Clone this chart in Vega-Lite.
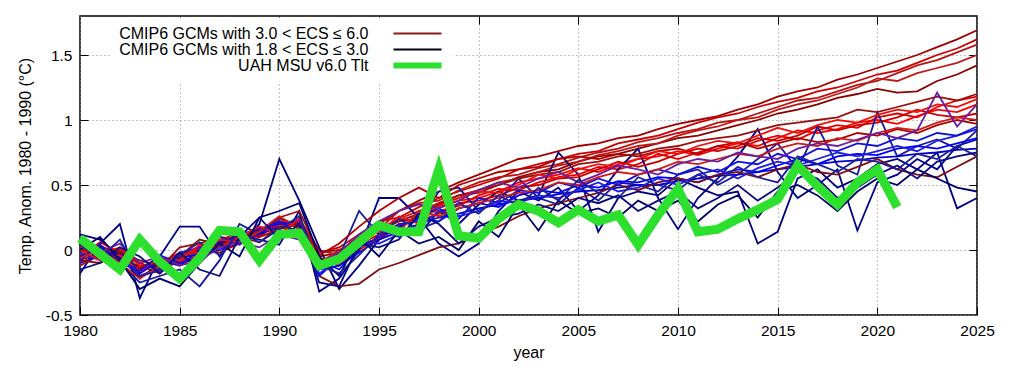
{
"$schema":"https://vega.github.io/schema/vega-lite/v6.json",
"width":897,"height":299,
"autosize":{"type":"none"},
"padding":{"left":80,"top":16,"right":33,"bottom":53},
"config":{"font":"Liberation Sans","view":{"stroke":"black","strokeWidth":1.5},"axis":{"labelColor":"black","titleColor":"black","titleFontWeight":"normal","tickColor":"black","labelFontSize":15.5,"titleFontSize":16}},
"datasets":{
"lg":[{"g":"CMIP6 GCMs with 3.0 < ECS ≤ 6.0"},{"g":"CMIP6 GCMs with 1.8 < ECS ≤ 3.0"},{"g":"UAH MSU v6.0 Tlt"}],
"u":[
{"x":1980,"y":0.09},{"x":1981,"y":-0.03},{"x":1982,"y":-0.15},{"x":1983,"y":0.08},{"x":1984,"y":-0.09},{"x":1985,"y":-0.22},{"x":1986,"y":-0.06},{"x":1987,"y":0.15},{"x":1988,"y":0.14},{"x":1989,"y":-0.08},
{"x":1990,"y":0.12},{"x":1991,"y":0.13},{"x":1992,"y":-0.12},{"x":1993,"y":-0.07},{"x":1994,"y":0.06},{"x":1995,"y":0.19},{"x":1996,"y":0.14},{"x":1997,"y":0.14},{"x":1998,"y":0.62},{"x":1999,"y":0.11},
{"x":2000,"y":0.09},{"x":2001,"y":0.24},{"x":2002,"y":0.35},{"x":2003,"y":0.30},{"x":2004,"y":0.21},{"x":2005,"y":0.31},{"x":2006,"y":0.22},{"x":2007,"y":0.27},{"x":2008,"y":0.04},{"x":2009,"y":0.27},
{"x":2010,"y":0.47},{"x":2011,"y":0.14},{"x":2012,"y":0.16},{"x":2013,"y":0.24},{"x":2014,"y":0.31},{"x":2015,"y":0.39},{"x":2016,"y":0.65},{"x":2017,"y":0.49},{"x":2018,"y":0.35},{"x":2019,"y":0.52},
{"x":2020,"y":0.62},{"x":2021,"y":0.33}],
"d":[
{"m":"H1","x":1980,"y":-0.08},{"m":"H1","x":1981,"y":-0.02},{"m":"H1","x":1982,"y":-0.06},{"m":"H1","x":1983,"y":-0.16},{"m":"H1","x":1984,"y":-0.10},{"m":"H1","x":1985,"y":-0.05},{"m":"H1","x":1986,"y":0.00},{"m":"H1","x":1987,"y":0.06},{"m":"H1","x":1988,"y":0.10},{"m":"H1","x":1989,"y":0.15},
{"m":"H1","x":1990,"y":0.22},{"m":"H1","x":1991,"y":0.20},{"m":"H1","x":1992,"y":-0.05},{"m":"H1","x":1993,"y":-0.02},{"m":"H1","x":1994,"y":0.10},{"m":"H1","x":1995,"y":0.20},{"m":"H1","x":1996,"y":0.30},{"m":"H1","x":1997,"y":0.38},{"m":"H1","x":1998,"y":0.45},{"m":"H1","x":1999,"y":0.52},
{"m":"H1","x":2000,"y":0.58},{"m":"H1","x":2001,"y":0.64},{"m":"H1","x":2002,"y":0.70},{"m":"H1","x":2003,"y":0.72},{"m":"H1","x":2004,"y":0.76},{"m":"H1","x":2005,"y":0.80},{"m":"H1","x":2006,"y":0.82},{"m":"H1","x":2007,"y":0.86},{"m":"H1","x":2008,"y":0.88},{"m":"H1","x":2009,"y":0.93},
{"m":"H1","x":2010,"y":0.97},{"m":"H1","x":2011,"y":1.00},{"m":"H1","x":2012,"y":1.03},{"m":"H1","x":2013,"y":1.08},{"m":"H1","x":2014,"y":1.12},{"m":"H1","x":2015,"y":1.18},{"m":"H1","x":2016,"y":1.22},{"m":"H1","x":2017,"y":1.25},{"m":"H1","x":2018,"y":1.31},{"m":"H1","x":2019,"y":1.35},
{"m":"H1","x":2020,"y":1.40},{"m":"H1","x":2021,"y":1.45},{"m":"H1","x":2022,"y":1.50},{"m":"H1","x":2023,"y":1.56},{"m":"H1","x":2024,"y":1.62},{"m":"H1","x":2025,"y":1.69},
{"m":"H2","x":1980,"y":-0.04},{"m":"H2","x":1981,"y":0.02},{"m":"H2","x":1982,"y":-0.02},{"m":"H2","x":1983,"y":-0.20},{"m":"H2","x":1984,"y":-0.14},{"m":"H2","x":1985,"y":-0.08},{"m":"H2","x":1986,"y":0.02},{"m":"H2","x":1987,"y":0.04},{"m":"H2","x":1988,"y":0.12},{"m":"H2","x":1989,"y":0.13},
{"m":"H2","x":1990,"y":0.18},{"m":"H2","x":1991,"y":0.22},{"m":"H2","x":1992,"y":-0.02},{"m":"H2","x":1993,"y":0.02},{"m":"H2","x":1994,"y":0.12},{"m":"H2","x":1995,"y":0.22},{"m":"H2","x":1996,"y":0.25},{"m":"H2","x":1997,"y":0.33},{"m":"H2","x":1998,"y":0.40},{"m":"H2","x":1999,"y":0.45},
{"m":"H2","x":2000,"y":0.50},{"m":"H2","x":2001,"y":0.55},{"m":"H2","x":2002,"y":0.62},{"m":"H2","x":2003,"y":0.66},{"m":"H2","x":2004,"y":0.70},{"m":"H2","x":2005,"y":0.74},{"m":"H2","x":2006,"y":0.76},{"m":"H2","x":2007,"y":0.82},{"m":"H2","x":2008,"y":0.85},{"m":"H2","x":2009,"y":0.88},
{"m":"H2","x":2010,"y":0.93},{"m":"H2","x":2011,"y":0.98},{"m":"H2","x":2012,"y":1.02},{"m":"H2","x":2013,"y":1.05},{"m":"H2","x":2014,"y":1.10},{"m":"H2","x":2015,"y":1.14},{"m":"H2","x":2016,"y":1.17},{"m":"H2","x":2017,"y":1.22},{"m":"H2","x":2018,"y":1.25},{"m":"H2","x":2019,"y":1.30},
{"m":"H2","x":2020,"y":1.35},{"m":"H2","x":2021,"y":1.38},{"m":"H2","x":2022,"y":1.44},{"m":"H2","x":2023,"y":1.50},{"m":"H2","x":2024,"y":1.55},{"m":"H2","x":2025,"y":1.62},
{"m":"H3","x":1980,"y":0.02},{"m":"H3","x":1981,"y":-0.05},{"m":"H3","x":1982,"y":-0.08},{"m":"H3","x":1983,"y":-0.12},{"m":"H3","x":1984,"y":-0.18},{"m":"H3","x":1985,"y":-0.06},{"m":"H3","x":1986,"y":-0.01},{"m":"H3","x":1987,"y":0.05},{"m":"H3","x":1988,"y":0.08},{"m":"H3","x":1989,"y":0.17},
{"m":"H3","x":1990,"y":0.16},{"m":"H3","x":1991,"y":0.24},{"m":"H3","x":1992,"y":0.00},{"m":"H3","x":1993,"y":-0.04},{"m":"H3","x":1994,"y":0.06},{"m":"H3","x":1995,"y":0.16},{"m":"H3","x":1996,"y":0.30},{"m":"H3","x":1997,"y":0.36},{"m":"H3","x":1998,"y":0.38},{"m":"H3","x":1999,"y":0.46},
{"m":"H3","x":2000,"y":0.52},{"m":"H3","x":2001,"y":0.56},{"m":"H3","x":2002,"y":0.58},{"m":"H3","x":2003,"y":0.63},{"m":"H3","x":2004,"y":0.66},{"m":"H3","x":2005,"y":0.71},{"m":"H3","x":2006,"y":0.75},{"m":"H3","x":2007,"y":0.78},{"m":"H3","x":2008,"y":0.83},{"m":"H3","x":2009,"y":0.86},
{"m":"H3","x":2010,"y":0.90},{"m":"H3","x":2011,"y":0.93},{"m":"H3","x":2012,"y":0.98},{"m":"H3","x":2013,"y":1.00},{"m":"H3","x":2014,"y":1.05},{"m":"H3","x":2015,"y":1.10},{"m":"H3","x":2016,"y":1.15},{"m":"H3","x":2017,"y":1.17},{"m":"H3","x":2018,"y":1.22},{"m":"H3","x":2019,"y":1.27},
{"m":"H3","x":2020,"y":1.30},{"m":"H3","x":2021,"y":1.36},{"m":"H3","x":2022,"y":1.42},{"m":"H3","x":2023,"y":1.46},{"m":"H3","x":2024,"y":1.52},{"m":"H3","x":2025,"y":1.58},
{"m":"H4","x":1980,"y":-0.06},{"m":"H4","x":1981,"y":0.03},{"m":"H4","x":1982,"y":-0.03},{"m":"H4","x":1983,"y":-0.14},{"m":"H4","x":1984,"y":-0.12},{"m":"H4","x":1985,"y":-0.10},{"m":"H4","x":1986,"y":0.03},{"m":"H4","x":1987,"y":0.08},{"m":"H4","x":1988,"y":0.06},{"m":"H4","x":1989,"y":0.12},
{"m":"H4","x":1990,"y":0.20},{"m":"H4","x":1991,"y":0.18},{"m":"H4","x":1992,"y":-0.08},{"m":"H4","x":1993,"y":-0.05},{"m":"H4","x":1994,"y":0.05},{"m":"H4","x":1995,"y":0.15},{"m":"H4","x":1996,"y":0.22},{"m":"H4","x":1997,"y":0.28},{"m":"H4","x":1998,"y":0.35},{"m":"H4","x":1999,"y":0.40},
{"m":"H4","x":2000,"y":0.46},{"m":"H4","x":2001,"y":0.50},{"m":"H4","x":2002,"y":0.56},{"m":"H4","x":2003,"y":0.60},{"m":"H4","x":2004,"y":0.62},{"m":"H4","x":2005,"y":0.68},{"m":"H4","x":2006,"y":0.72},{"m":"H4","x":2007,"y":0.74},{"m":"H4","x":2008,"y":0.78},{"m":"H4","x":2009,"y":0.82},
{"m":"H4","x":2010,"y":0.86},{"m":"H4","x":2011,"y":0.88},{"m":"H4","x":2012,"y":0.92},{"m":"H4","x":2013,"y":0.96},{"m":"H4","x":2014,"y":1.00},{"m":"H4","x":2015,"y":1.05},{"m":"H4","x":2016,"y":1.08},{"m":"H4","x":2017,"y":1.12},{"m":"H4","x":2018,"y":1.17},{"m":"H4","x":2019,"y":1.20},
{"m":"H4","x":2020,"y":1.24},{"m":"H4","x":2021,"y":1.21},{"m":"H4","x":2022,"y":1.22},{"m":"H4","x":2023,"y":1.30},{"m":"H4","x":2024,"y":1.35},{"m":"H4","x":2025,"y":1.42},
{"m":"H5","x":1980,"y":-0.03},{"m":"H5","x":1981,"y":-0.06},{"m":"H5","x":1982,"y":0.00},{"m":"H5","x":1983,"y":-0.10},{"m":"H5","x":1984,"y":-0.15},{"m":"H5","x":1985,"y":-0.09},{"m":"H5","x":1986,"y":-0.04},{"m":"H5","x":1987,"y":0.07},{"m":"H5","x":1988,"y":0.14},{"m":"H5","x":1989,"y":0.10},
{"m":"H5","x":1990,"y":0.24},{"m":"H5","x":1991,"y":0.16},{"m":"H5","x":1992,"y":-0.10},{"m":"H5","x":1993,"y":0.00},{"m":"H5","x":1994,"y":0.08},{"m":"H5","x":1995,"y":0.14},{"m":"H5","x":1996,"y":0.24},{"m":"H5","x":1997,"y":0.30},{"m":"H5","x":1998,"y":0.36},{"m":"H5","x":1999,"y":0.42},
{"m":"H5","x":2000,"y":0.46},{"m":"H5","x":2001,"y":0.52},{"m":"H5","x":2002,"y":0.55},{"m":"H5","x":2003,"y":0.60},{"m":"H5","x":2004,"y":0.65},{"m":"H5","x":2005,"y":0.68},{"m":"H5","x":2006,"y":0.73},{"m":"H5","x":2007,"y":0.76},{"m":"H5","x":2008,"y":0.80},{"m":"H5","x":2009,"y":0.82},
{"m":"H5","x":2010,"y":0.88},{"m":"H5","x":2011,"y":0.92},{"m":"H5","x":2012,"y":0.95},{"m":"H5","x":2013,"y":1.00},{"m":"H5","x":2014,"y":1.02},{"m":"H5","x":2015,"y":1.08},{"m":"H5","x":2016,"y":1.12},{"m":"H5","x":2017,"y":1.15},{"m":"H5","x":2018,"y":1.20},{"m":"H5","x":2019,"y":1.25},
{"m":"H5","x":2020,"y":1.32},{"m":"H5","x":2021,"y":1.30},{"m":"H5","x":2022,"y":1.36},{"m":"H5","x":2023,"y":1.40},{"m":"H5","x":2024,"y":1.44},{"m":"H5","x":2025,"y":1.50},
{"m":"M1","x":1980,"y":-0.10},{"m":"M1","x":1981,"y":-0.03},{"m":"M1","x":1982,"y":0.02},{"m":"M1","x":1983,"y":-0.12},{"m":"M1","x":1984,"y":-0.10},{"m":"M1","x":1985,"y":-0.02},{"m":"M1","x":1986,"y":0.00},{"m":"M1","x":1987,"y":0.03},{"m":"M1","x":1988,"y":0.08},{"m":"M1","x":1989,"y":0.12},
{"m":"M1","x":1990,"y":0.20},{"m":"M1","x":1991,"y":0.14},{"m":"M1","x":1992,"y":-0.12},{"m":"M1","x":1993,"y":-0.10},{"m":"M1","x":1994,"y":0.00},{"m":"M1","x":1995,"y":0.10},{"m":"M1","x":1996,"y":0.18},{"m":"M1","x":1997,"y":0.25},{"m":"M1","x":1998,"y":0.33},{"m":"M1","x":1999,"y":0.38},
{"m":"M1","x":2000,"y":0.40},{"m":"M1","x":2001,"y":0.45},{"m":"M1","x":2002,"y":0.52},{"m":"M1","x":2003,"y":0.55},{"m":"M1","x":2004,"y":0.58},{"m":"M1","x":2005,"y":0.63},{"m":"M1","x":2006,"y":0.60},{"m":"M1","x":2007,"y":0.66},{"m":"M1","x":2008,"y":0.70},{"m":"M1","x":2009,"y":0.72},
{"m":"M1","x":2010,"y":0.76},{"m":"M1","x":2011,"y":0.73},{"m":"M1","x":2012,"y":0.78},{"m":"M1","x":2013,"y":0.82},{"m":"M1","x":2014,"y":0.80},{"m":"M1","x":2015,"y":0.86},{"m":"M1","x":2016,"y":0.92},{"m":"M1","x":2017,"y":0.90},{"m":"M1","x":2018,"y":0.93},{"m":"M1","x":2019,"y":0.98},
{"m":"M1","x":2020,"y":1.00},{"m":"M1","x":2021,"y":0.97},{"m":"M1","x":2022,"y":1.03},{"m":"M1","x":2023,"y":1.08},{"m":"M1","x":2024,"y":1.06},{"m":"M1","x":2025,"y":1.12},
{"m":"B1","x":1980,"y":0.12},{"m":"B1","x":1981,"y":0.08},{"m":"B1","x":1982,"y":-0.05},{"m":"B1","x":1983,"y":-0.22},{"m":"B1","x":1984,"y":-0.10},{"m":"B1","x":1985,"y":-0.20},{"m":"B1","x":1986,"y":-0.05},{"m":"B1","x":1987,"y":0.00},{"m":"B1","x":1988,"y":0.05},{"m":"B1","x":1989,"y":0.20},
{"m":"B1","x":1990,"y":0.70},{"m":"B1","x":1991,"y":0.38},{"m":"B1","x":1992,"y":0.02},{"m":"B1","x":1993,"y":-0.30},{"m":"B1","x":1994,"y":-0.12},{"m":"B1","x":1995,"y":0.08},{"m":"B1","x":1996,"y":0.18},{"m":"B1","x":1997,"y":0.12},{"m":"B1","x":1998,"y":0.30},{"m":"B1","x":1999,"y":0.20},
{"m":"B1","x":2000,"y":0.35},{"m":"B1","x":2001,"y":0.45},{"m":"B1","x":2002,"y":0.38},{"m":"B1","x":2003,"y":0.42},{"m":"B1","x":2004,"y":0.75},{"m":"B1","x":2005,"y":0.58},{"m":"B1","x":2006,"y":0.14},{"m":"B1","x":2007,"y":0.40},{"m":"B1","x":2008,"y":0.45},{"m":"B1","x":2009,"y":0.42},
{"m":"B1","x":2010,"y":0.55},{"m":"B1","x":2011,"y":0.48},{"m":"B1","x":2012,"y":0.42},{"m":"B1","x":2013,"y":0.45},{"m":"B1","x":2014,"y":0.05},{"m":"B1","x":2015,"y":0.14},{"m":"B1","x":2016,"y":0.55},{"m":"B1","x":2017,"y":0.62},{"m":"B1","x":2018,"y":0.48},{"m":"B1","x":2019,"y":0.55},
{"m":"B1","x":2020,"y":0.66},{"m":"B1","x":2021,"y":0.70},{"m":"B1","x":2022,"y":0.62},{"m":"B1","x":2023,"y":0.75},{"m":"B1","x":2024,"y":0.32},{"m":"B1","x":2025,"y":0.40},
{"m":"M2","x":1980,"y":-0.05},{"m":"M2","x":1981,"y":0.06},{"m":"M2","x":1982,"y":-0.02},{"m":"M2","x":1983,"y":-0.18},{"m":"M2","x":1984,"y":-0.08},{"m":"M2","x":1985,"y":-0.12},{"m":"M2","x":1986,"y":-0.04},{"m":"M2","x":1987,"y":0.06},{"m":"M2","x":1988,"y":0.12},{"m":"M2","x":1989,"y":0.10},
{"m":"M2","x":1990,"y":0.22},{"m":"M2","x":1991,"y":0.18},{"m":"M2","x":1992,"y":-0.06},{"m":"M2","x":1993,"y":-0.12},{"m":"M2","x":1994,"y":0.04},{"m":"M2","x":1995,"y":0.12},{"m":"M2","x":1996,"y":0.16},{"m":"M2","x":1997,"y":0.28},{"m":"M2","x":1998,"y":0.30},{"m":"M2","x":1999,"y":0.34},
{"m":"M2","x":2000,"y":0.42},{"m":"M2","x":2001,"y":0.47},{"m":"M2","x":2002,"y":0.46},{"m":"M2","x":2003,"y":0.52},{"m":"M2","x":2004,"y":0.56},{"m":"M2","x":2005,"y":0.58},{"m":"M2","x":2006,"y":0.64},{"m":"M2","x":2007,"y":0.62},{"m":"M2","x":2008,"y":0.66},{"m":"M2","x":2009,"y":0.74},
{"m":"M2","x":2010,"y":0.70},{"m":"M2","x":2011,"y":0.75},{"m":"M2","x":2012,"y":0.80},{"m":"M2","x":2013,"y":0.78},{"m":"M2","x":2014,"y":0.84},{"m":"M2","x":2015,"y":0.88},{"m":"M2","x":2016,"y":0.85},{"m":"M2","x":2017,"y":0.92},{"m":"M2","x":2018,"y":0.96},{"m":"M2","x":2019,"y":0.94},
{"m":"M2","x":2020,"y":1.02},{"m":"M2","x":2021,"y":1.05},{"m":"M2","x":2022,"y":1.02},{"m":"M2","x":2023,"y":1.10},{"m":"M2","x":2024,"y":1.15},{"m":"M2","x":2025,"y":1.18},
{"m":"B2","x":1980,"y":-0.18},{"m":"B2","x":1981,"y":0.05},{"m":"B2","x":1982,"y":0.20},{"m":"B2","x":1983,"y":-0.37},{"m":"B2","x":1984,"y":-0.05},{"m":"B2","x":1985,"y":0.18},{"m":"B2","x":1986,"y":0.18},{"m":"B2","x":1987,"y":-0.05},{"m":"B2","x":1988,"y":0.12},{"m":"B2","x":1989,"y":0.08},
{"m":"B2","x":1990,"y":0.04},{"m":"B2","x":1991,"y":0.30},{"m":"B2","x":1992,"y":-0.32},{"m":"B2","x":1993,"y":-0.22},{"m":"B2","x":1994,"y":0.00},{"m":"B2","x":1995,"y":0.40},{"m":"B2","x":1996,"y":0.40},{"m":"B2","x":1997,"y":0.25},{"m":"B2","x":1998,"y":0.05},{"m":"B2","x":1999,"y":-0.05},
{"m":"B2","x":2000,"y":0.05},{"m":"B2","x":2001,"y":0.30},{"m":"B2","x":2002,"y":0.45},{"m":"B2","x":2003,"y":0.38},{"m":"B2","x":2004,"y":0.48},{"m":"B2","x":2005,"y":0.30},{"m":"B2","x":2006,"y":0.42},{"m":"B2","x":2007,"y":0.62},{"m":"B2","x":2008,"y":0.78},{"m":"B2","x":2009,"y":0.40},
{"m":"B2","x":2010,"y":0.16},{"m":"B2","x":2011,"y":0.40},{"m":"B2","x":2012,"y":0.55},{"m":"B2","x":2013,"y":0.72},{"m":"B2","x":2014,"y":0.93},{"m":"B2","x":2015,"y":0.60},{"m":"B2","x":2016,"y":0.40},{"m":"B2","x":2017,"y":0.50},{"m":"B2","x":2018,"y":0.62},{"m":"B2","x":2019,"y":0.15},
{"m":"B2","x":2020,"y":0.52},{"m":"B2","x":2021,"y":0.58},{"m":"B2","x":2022,"y":0.70},{"m":"B2","x":2023,"y":0.62},{"m":"B2","x":2024,"y":0.80},{"m":"B2","x":2025,"y":0.85},
{"m":"M3","x":1980,"y":0.05},{"m":"M3","x":1981,"y":-0.06},{"m":"M3","x":1982,"y":-0.05},{"m":"M3","x":1983,"y":-0.10},{"m":"M3","x":1984,"y":-0.16},{"m":"M3","x":1985,"y":-0.04},{"m":"M3","x":1986,"y":0.02},{"m":"M3","x":1987,"y":-0.02},{"m":"M3","x":1988,"y":0.05},{"m":"M3","x":1989,"y":0.16},
{"m":"M3","x":1990,"y":0.14},{"m":"M3","x":1991,"y":0.10},{"m":"M3","x":1992,"y":-0.15},{"m":"M3","x":1993,"y":-0.06},{"m":"M3","x":1994,"y":0.05},{"m":"M3","x":1995,"y":0.08},{"m":"M3","x":1996,"y":0.20},{"m":"M3","x":1997,"y":0.22},{"m":"M3","x":1998,"y":0.28},{"m":"M3","x":1999,"y":0.36},
{"m":"M3","x":2000,"y":0.38},{"m":"M3","x":2001,"y":0.42},{"m":"M3","x":2002,"y":0.48},{"m":"M3","x":2003,"y":0.50},{"m":"M3","x":2004,"y":0.55},{"m":"M3","x":2005,"y":0.56},{"m":"M3","x":2006,"y":0.62},{"m":"M3","x":2007,"y":0.68},{"m":"M3","x":2008,"y":0.64},{"m":"M3","x":2009,"y":0.68},
{"m":"M3","x":2010,"y":0.74},{"m":"M3","x":2011,"y":0.78},{"m":"M3","x":2012,"y":0.76},{"m":"M3","x":2013,"y":0.80},{"m":"M3","x":2014,"y":0.86},{"m":"M3","x":2015,"y":0.84},{"m":"M3","x":2016,"y":0.88},{"m":"M3","x":2017,"y":0.95},{"m":"M3","x":2018,"y":0.92},{"m":"M3","x":2019,"y":0.96},
{"m":"M3","x":2020,"y":0.98},{"m":"M3","x":2021,"y":1.02},{"m":"M3","x":2022,"y":1.08},{"m":"M3","x":2023,"y":1.04},{"m":"M3","x":2024,"y":1.02},{"m":"M3","x":2025,"y":1.05},
{"m":"B3","x":1980,"y":0.05},{"m":"B3","x":1981,"y":-0.02},{"m":"B3","x":1982,"y":-0.10},{"m":"B3","x":1983,"y":-0.25},{"m":"B3","x":1984,"y":-0.20},{"m":"B3","x":1985,"y":-0.15},{"m":"B3","x":1986,"y":-0.28},{"m":"B3","x":1987,"y":-0.08},{"m":"B3","x":1988,"y":0.20},{"m":"B3","x":1989,"y":0.12},
{"m":"B3","x":1990,"y":0.25},{"m":"B3","x":1991,"y":0.18},{"m":"B3","x":1992,"y":-0.12},{"m":"B3","x":1993,"y":-0.05},{"m":"B3","x":1994,"y":0.30},{"m":"B3","x":1995,"y":0.12},{"m":"B3","x":1996,"y":0.20},{"m":"B3","x":1997,"y":0.22},{"m":"B3","x":1998,"y":0.45},{"m":"B3","x":1999,"y":0.48},
{"m":"B3","x":2000,"y":0.30},{"m":"B3","x":2001,"y":0.38},{"m":"B3","x":2002,"y":0.55},{"m":"B3","x":2003,"y":0.40},{"m":"B3","x":2004,"y":0.35},{"m":"B3","x":2005,"y":0.48},{"m":"B3","x":2006,"y":0.38},{"m":"B3","x":2007,"y":0.52},{"m":"B3","x":2008,"y":0.50},{"m":"B3","x":2009,"y":0.45},
{"m":"B3","x":2010,"y":0.58},{"m":"B3","x":2011,"y":0.62},{"m":"B3","x":2012,"y":0.50},{"m":"B3","x":2013,"y":0.58},{"m":"B3","x":2014,"y":0.70},{"m":"B3","x":2015,"y":0.82},{"m":"B3","x":2016,"y":0.62},{"m":"B3","x":2017,"y":0.95},{"m":"B3","x":2018,"y":0.65},{"m":"B3","x":2019,"y":0.58},
{"m":"B3","x":2020,"y":1.06},{"m":"B3","x":2021,"y":0.72},{"m":"B3","x":2022,"y":0.80},{"m":"B3","x":2023,"y":0.85},{"m":"B3","x":2024,"y":0.78},{"m":"B3","x":2025,"y":0.92},
{"m":"M4","x":1980,"y":-0.12},{"m":"M4","x":1981,"y":-0.04},{"m":"M4","x":1982,"y":0.00},{"m":"M4","x":1983,"y":-0.20},{"m":"M4","x":1984,"y":-0.14},{"m":"M4","x":1985,"y":0.02},{"m":"M4","x":1986,"y":0.05},{"m":"M4","x":1987,"y":0.10},{"m":"M4","x":1988,"y":0.08},{"m":"M4","x":1989,"y":0.15},
{"m":"M4","x":1990,"y":0.25},{"m":"M4","x":1991,"y":0.30},{"m":"M4","x":1992,"y":-0.02},{"m":"M4","x":1993,"y":0.00},{"m":"M4","x":1994,"y":0.06},{"m":"M4","x":1995,"y":0.18},{"m":"M4","x":1996,"y":0.22},{"m":"M4","x":1997,"y":0.24},{"m":"M4","x":1998,"y":0.36},{"m":"M4","x":1999,"y":0.42},
{"m":"M4","x":2000,"y":0.44},{"m":"M4","x":2001,"y":0.50},{"m":"M4","x":2002,"y":0.55},{"m":"M4","x":2003,"y":0.58},{"m":"M4","x":2004,"y":0.60},{"m":"M4","x":2005,"y":0.66},{"m":"M4","x":2006,"y":0.68},{"m":"M4","x":2007,"y":0.72},{"m":"M4","x":2008,"y":0.74},{"m":"M4","x":2009,"y":0.78},
{"m":"M4","x":2010,"y":0.80},{"m":"M4","x":2011,"y":0.84},{"m":"M4","x":2012,"y":0.86},{"m":"M4","x":2013,"y":0.88},{"m":"M4","x":2014,"y":0.92},{"m":"M4","x":2015,"y":0.96},{"m":"M4","x":2016,"y":0.98},{"m":"M4","x":2017,"y":1.00},{"m":"M4","x":2018,"y":1.02},{"m":"M4","x":2019,"y":1.08},
{"m":"M4","x":2020,"y":1.06},{"m":"M4","x":2021,"y":1.10},{"m":"M4","x":2022,"y":1.14},{"m":"M4","x":2023,"y":1.18},{"m":"M4","x":2024,"y":1.15},{"m":"M4","x":2025,"y":1.20},
{"m":"B4","x":1980,"y":-0.05},{"m":"B4","x":1981,"y":0.02},{"m":"B4","x":1982,"y":-0.06},{"m":"B4","x":1983,"y":-0.14},{"m":"B4","x":1984,"y":-0.12},{"m":"B4","x":1985,"y":-0.06},{"m":"B4","x":1986,"y":-0.03},{"m":"B4","x":1987,"y":0.06},{"m":"B4","x":1988,"y":0.08},{"m":"B4","x":1989,"y":0.12},
{"m":"B4","x":1990,"y":0.18},{"m":"B4","x":1991,"y":0.14},{"m":"B4","x":1992,"y":-0.15},{"m":"B4","x":1993,"y":-0.12},{"m":"B4","x":1994,"y":-0.02},{"m":"B4","x":1995,"y":0.08},{"m":"B4","x":1996,"y":0.14},{"m":"B4","x":1997,"y":0.20},{"m":"B4","x":1998,"y":0.25},{"m":"B4","x":1999,"y":0.28},
{"m":"B4","x":2000,"y":0.32},{"m":"B4","x":2001,"y":0.35},{"m":"B4","x":2002,"y":0.38},{"m":"B4","x":2003,"y":0.40},{"m":"B4","x":2004,"y":0.43},{"m":"B4","x":2005,"y":0.45},{"m":"B4","x":2006,"y":0.46},{"m":"B4","x":2007,"y":0.48},{"m":"B4","x":2008,"y":0.50},{"m":"B4","x":2009,"y":0.50},
{"m":"B4","x":2010,"y":0.53},{"m":"B4","x":2011,"y":0.55},{"m":"B4","x":2012,"y":0.57},{"m":"B4","x":2013,"y":0.58},{"m":"B4","x":2014,"y":0.60},{"m":"B4","x":2015,"y":0.62},{"m":"B4","x":2016,"y":0.64},{"m":"B4","x":2017,"y":0.66},{"m":"B4","x":2018,"y":0.68},{"m":"B4","x":2019,"y":0.69},
{"m":"B4","x":2020,"y":0.71},{"m":"B4","x":2021,"y":0.72},{"m":"B4","x":2022,"y":0.74},{"m":"B4","x":2023,"y":0.75},{"m":"B4","x":2024,"y":0.77},{"m":"B4","x":2025,"y":0.78},
{"m":"M5","x":1980,"y":-0.02},{"m":"M5","x":1981,"y":0.04},{"m":"M5","x":1982,"y":-0.08},{"m":"M5","x":1983,"y":-0.14},{"m":"M5","x":1984,"y":-0.06},{"m":"M5","x":1985,"y":-0.10},{"m":"M5","x":1986,"y":-0.06},{"m":"M5","x":1987,"y":0.02},{"m":"M5","x":1988,"y":0.14},{"m":"M5","x":1989,"y":0.10},
{"m":"M5","x":1990,"y":0.16},{"m":"M5","x":1991,"y":0.20},{"m":"M5","x":1992,"y":-0.04},{"m":"M5","x":1993,"y":0.05},{"m":"M5","x":1994,"y":0.18},{"m":"M5","x":1995,"y":0.30},{"m":"M5","x":1996,"y":0.40},{"m":"M5","x":1997,"y":0.48},{"m":"M5","x":1998,"y":0.40},{"m":"M5","x":1999,"y":0.50},
{"m":"M5","x":2000,"y":0.55},{"m":"M5","x":2001,"y":0.60},{"m":"M5","x":2002,"y":0.62},{"m":"M5","x":2003,"y":0.64},{"m":"M5","x":2004,"y":0.70},{"m":"M5","x":2005,"y":0.72},{"m":"M5","x":2006,"y":0.70},{"m":"M5","x":2007,"y":0.74},{"m":"M5","x":2008,"y":0.72},{"m":"M5","x":2009,"y":0.76},
{"m":"M5","x":2010,"y":0.78},{"m":"M5","x":2011,"y":0.74},{"m":"M5","x":2012,"y":0.80},{"m":"M5","x":2013,"y":0.83},{"m":"M5","x":2014,"y":0.78},{"m":"M5","x":2015,"y":0.82},{"m":"M5","x":2016,"y":0.86},{"m":"M5","x":2017,"y":0.83},{"m":"M5","x":2018,"y":0.85},{"m":"M5","x":2019,"y":0.90},
{"m":"M5","x":2020,"y":0.88},{"m":"M5","x":2021,"y":0.93},{"m":"M5","x":2022,"y":0.90},{"m":"M5","x":2023,"y":0.96},{"m":"M5","x":2024,"y":1.00},{"m":"M5","x":2025,"y":0.97},
{"m":"B5","x":1980,"y":-0.10},{"m":"B5","x":1981,"y":-0.04},{"m":"B5","x":1982,"y":-0.02},{"m":"B5","x":1983,"y":-0.18},{"m":"B5","x":1984,"y":-0.08},{"m":"B5","x":1985,"y":-0.12},{"m":"B5","x":1986,"y":0.00},{"m":"B5","x":1987,"y":0.04},{"m":"B5","x":1988,"y":0.12},{"m":"B5","x":1989,"y":0.16},
{"m":"B5","x":1990,"y":0.20},{"m":"B5","x":1991,"y":0.22},{"m":"B5","x":1992,"y":-0.08},{"m":"B5","x":1993,"y":-0.15},{"m":"B5","x":1994,"y":0.02},{"m":"B5","x":1995,"y":0.10},{"m":"B5","x":1996,"y":0.18},{"m":"B5","x":1997,"y":0.24},{"m":"B5","x":1998,"y":0.22},{"m":"B5","x":1999,"y":0.32},
{"m":"B5","x":2000,"y":0.36},{"m":"B5","x":2001,"y":0.33},{"m":"B5","x":2002,"y":0.42},{"m":"B5","x":2003,"y":0.46},{"m":"B5","x":2004,"y":0.44},{"m":"B5","x":2005,"y":0.50},{"m":"B5","x":2006,"y":0.48},{"m":"B5","x":2007,"y":0.53},{"m":"B5","x":2008,"y":0.52},{"m":"B5","x":2009,"y":0.56},
{"m":"B5","x":2010,"y":0.55},{"m":"B5","x":2011,"y":0.52},{"m":"B5","x":2012,"y":0.58},{"m":"B5","x":2013,"y":0.62},{"m":"B5","x":2014,"y":0.60},{"m":"B5","x":2015,"y":0.65},{"m":"B5","x":2016,"y":0.70},{"m":"B5","x":2017,"y":0.66},{"m":"B5","x":2018,"y":0.72},{"m":"B5","x":2019,"y":0.74},
{"m":"B5","x":2020,"y":0.73},{"m":"B5","x":2021,"y":0.78},{"m":"B5","x":2022,"y":0.80},{"m":"B5","x":2023,"y":0.78},{"m":"B5","x":2024,"y":0.82},{"m":"B5","x":2025,"y":0.86},
{"m":"M6","x":1980,"y":-0.08},{"m":"M6","x":1981,"y":-0.10},{"m":"M6","x":1982,"y":-0.02},{"m":"M6","x":1983,"y":-0.08},{"m":"M6","x":1984,"y":-0.12},{"m":"M6","x":1985,"y":-0.05},{"m":"M6","x":1986,"y":0.08},{"m":"M6","x":1987,"y":0.04},{"m":"M6","x":1988,"y":0.10},{"m":"M6","x":1989,"y":0.06},
{"m":"M6","x":1990,"y":0.18},{"m":"M6","x":1991,"y":0.12},{"m":"M6","x":1992,"y":-0.20},{"m":"M6","x":1993,"y":-0.28},{"m":"M6","x":1994,"y":-0.26},{"m":"M6","x":1995,"y":-0.15},{"m":"M6","x":1996,"y":-0.10},{"m":"M6","x":1997,"y":-0.04},{"m":"M6","x":1998,"y":0.02},{"m":"M6","x":1999,"y":0.05},
{"m":"M6","x":2000,"y":0.12},{"m":"M6","x":2001,"y":0.18},{"m":"M6","x":2002,"y":0.26},{"m":"M6","x":2003,"y":0.32},{"m":"M6","x":2004,"y":0.36},{"m":"M6","x":2005,"y":0.40},{"m":"M6","x":2006,"y":0.44},{"m":"M6","x":2007,"y":0.50},{"m":"M6","x":2008,"y":0.46},{"m":"M6","x":2009,"y":0.52},
{"m":"M6","x":2010,"y":0.55},{"m":"M6","x":2011,"y":0.52},{"m":"M6","x":2012,"y":0.58},{"m":"M6","x":2013,"y":0.60},{"m":"M6","x":2014,"y":0.56},{"m":"M6","x":2015,"y":0.62},{"m":"M6","x":2016,"y":0.66},{"m":"M6","x":2017,"y":0.60},{"m":"M6","x":2018,"y":0.58},{"m":"M6","x":2019,"y":0.64},
{"m":"M6","x":2020,"y":0.70},{"m":"M6","x":2021,"y":0.62},{"m":"M6","x":2022,"y":0.58},{"m":"M6","x":2023,"y":0.56},{"m":"M6","x":2024,"y":0.64},{"m":"M6","x":2025,"y":0.72},
{"m":"B6","x":1980,"y":-0.02},{"m":"B6","x":1981,"y":-0.08},{"m":"B6","x":1982,"y":-0.04},{"m":"B6","x":1983,"y":-0.20},{"m":"B6","x":1984,"y":-0.14},{"m":"B6","x":1985,"y":-0.02},{"m":"B6","x":1986,"y":0.02},{"m":"B6","x":1987,"y":0.00},{"m":"B6","x":1988,"y":0.10},{"m":"B6","x":1989,"y":0.18},
{"m":"B6","x":1990,"y":0.15},{"m":"B6","x":1991,"y":0.10},{"m":"B6","x":1992,"y":-0.18},{"m":"B6","x":1993,"y":-0.08},{"m":"B6","x":1994,"y":0.06},{"m":"B6","x":1995,"y":0.05},{"m":"B6","x":1996,"y":0.12},{"m":"B6","x":1997,"y":0.18},{"m":"B6","x":1998,"y":0.30},{"m":"B6","x":1999,"y":0.26},
{"m":"B6","x":2000,"y":0.30},{"m":"B6","x":2001,"y":0.38},{"m":"B6","x":2002,"y":0.36},{"m":"B6","x":2003,"y":0.42},{"m":"B6","x":2004,"y":0.40},{"m":"B6","x":2005,"y":0.46},{"m":"B6","x":2006,"y":0.52},{"m":"B6","x":2007,"y":0.45},{"m":"B6","x":2008,"y":0.48},{"m":"B6","x":2009,"y":0.55},
{"m":"B6","x":2010,"y":0.50},{"m":"B6","x":2011,"y":0.58},{"m":"B6","x":2012,"y":0.62},{"m":"B6","x":2013,"y":0.55},{"m":"B6","x":2014,"y":0.63},{"m":"B6","x":2015,"y":0.68},{"m":"B6","x":2016,"y":0.65},{"m":"B6","x":2017,"y":0.70},{"m":"B6","x":2018,"y":0.75},{"m":"B6","x":2019,"y":0.72},
{"m":"B6","x":2020,"y":0.76},{"m":"B6","x":2021,"y":0.80},{"m":"B6","x":2022,"y":0.76},{"m":"B6","x":2023,"y":0.84},{"m":"B6","x":2024,"y":0.88},{"m":"B6","x":2025,"y":0.95},
{"m":"M7","x":1980,"y":0.00},{"m":"M7","x":1981,"y":-0.08},{"m":"M7","x":1982,"y":-0.04},{"m":"M7","x":1983,"y":-0.16},{"m":"M7","x":1984,"y":-0.06},{"m":"M7","x":1985,"y":-0.08},{"m":"M7","x":1986,"y":0.04},{"m":"M7","x":1987,"y":0.02},{"m":"M7","x":1988,"y":0.10},{"m":"M7","x":1989,"y":0.18},
{"m":"M7","x":1990,"y":0.12},{"m":"M7","x":1991,"y":0.24},{"m":"M7","x":1992,"y":-0.08},{"m":"M7","x":1993,"y":-0.04},{"m":"M7","x":1994,"y":0.08},{"m":"M7","x":1995,"y":0.14},{"m":"M7","x":1996,"y":0.26},{"m":"M7","x":1997,"y":0.20},{"m":"M7","x":1998,"y":0.34},{"m":"M7","x":1999,"y":0.40},
{"m":"M7","x":2000,"y":0.45},{"m":"M7","x":2001,"y":0.44},{"m":"M7","x":2002,"y":0.50},{"m":"M7","x":2003,"y":0.58},{"m":"M7","x":2004,"y":0.55},{"m":"M7","x":2005,"y":0.62},{"m":"M7","x":2006,"y":0.66},{"m":"M7","x":2007,"y":0.64},{"m":"M7","x":2008,"y":0.70},{"m":"M7","x":2009,"y":0.76},
{"m":"M7","x":2010,"y":0.74},{"m":"M7","x":2011,"y":0.80},{"m":"M7","x":2012,"y":0.84},{"m":"M7","x":2013,"y":0.82},{"m":"M7","x":2014,"y":0.88},{"m":"M7","x":2015,"y":0.94},{"m":"M7","x":2016,"y":0.90},{"m":"M7","x":2017,"y":0.96},{"m":"M7","x":2018,"y":1.00},{"m":"M7","x":2019,"y":0.98},
{"m":"M7","x":2020,"y":1.04},{"m":"M7","x":2021,"y":1.08},{"m":"M7","x":2022,"y":1.06},{"m":"M7","x":2023,"y":1.12},{"m":"M7","x":2024,"y":1.10},{"m":"M7","x":2025,"y":1.16},
{"m":"B10","x":1980,"y":-0.08},{"m":"B10","x":1981,"y":0.04},{"m":"B10","x":1982,"y":-0.10},{"m":"B10","x":1983,"y":-0.16},{"m":"B10","x":1984,"y":-0.04},{"m":"B10","x":1985,"y":-0.10},{"m":"B10","x":1986,"y":-0.06},{"m":"B10","x":1987,"y":0.10},{"m":"B10","x":1988,"y":0.04},{"m":"B10","x":1989,"y":0.14},
{"m":"B10","x":1990,"y":0.22},{"m":"B10","x":1991,"y":0.12},{"m":"B10","x":1992,"y":-0.20},{"m":"B10","x":1993,"y":-0.06},{"m":"B10","x":1994,"y":0.04},{"m":"B10","x":1995,"y":0.16},{"m":"B10","x":1996,"y":0.10},{"m":"B10","x":1997,"y":0.26},{"m":"B10","x":1998,"y":0.32},{"m":"B10","x":1999,"y":0.24},
{"m":"B10","x":2000,"y":0.40},{"m":"B10","x":2001,"y":0.36},{"m":"B10","x":2002,"y":0.46},{"m":"B10","x":2003,"y":0.44},{"m":"B10","x":2004,"y":0.52},{"m":"B10","x":2005,"y":0.48},{"m":"B10","x":2006,"y":0.55},{"m":"B10","x":2007,"y":0.50},{"m":"B10","x":2008,"y":0.58},{"m":"B10","x":2009,"y":0.62},
{"m":"B10","x":2010,"y":0.58},{"m":"B10","x":2011,"y":0.64},{"m":"B10","x":2012,"y":0.60},{"m":"B10","x":2013,"y":0.68},{"m":"B10","x":2014,"y":0.66},{"m":"B10","x":2015,"y":0.74},{"m":"B10","x":2016,"y":0.70},{"m":"B10","x":2017,"y":0.78},{"m":"B10","x":2018,"y":0.76},{"m":"B10","x":2019,"y":0.82},
{"m":"B10","x":2020,"y":0.80},{"m":"B10","x":2021,"y":0.86},{"m":"B10","x":2022,"y":0.84},{"m":"B10","x":2023,"y":0.90},{"m":"B10","x":2024,"y":0.88},{"m":"B10","x":2025,"y":0.93},
{"m":"M8","x":1980,"y":-0.06},{"m":"M8","x":1981,"y":0.00},{"m":"M8","x":1982,"y":-0.10},{"m":"M8","x":1983,"y":-0.22},{"m":"M8","x":1984,"y":-0.12},{"m":"M8","x":1985,"y":-0.04},{"m":"M8","x":1986,"y":-0.02},{"m":"M8","x":1987,"y":0.08},{"m":"M8","x":1988,"y":0.06},{"m":"M8","x":1989,"y":0.14},
{"m":"M8","x":1990,"y":0.26},{"m":"M8","x":1991,"y":0.16},{"m":"M8","x":1992,"y":-0.14},{"m":"M8","x":1993,"y":-0.08},{"m":"M8","x":1994,"y":0.02},{"m":"M8","x":1995,"y":0.16},{"m":"M8","x":1996,"y":0.14},{"m":"M8","x":1997,"y":0.30},{"m":"M8","x":1998,"y":0.26},{"m":"M8","x":1999,"y":0.32},
{"m":"M8","x":2000,"y":0.36},{"m":"M8","x":2001,"y":0.40},{"m":"M8","x":2002,"y":0.44},{"m":"M8","x":2003,"y":0.46},{"m":"M8","x":2004,"y":0.52},{"m":"M8","x":2005,"y":0.50},{"m":"M8","x":2006,"y":0.56},{"m":"M8","x":2007,"y":0.60},{"m":"M8","x":2008,"y":0.58},{"m":"M8","x":2009,"y":0.62},
{"m":"M8","x":2010,"y":0.68},{"m":"M8","x":2011,"y":0.66},{"m":"M8","x":2012,"y":0.70},{"m":"M8","x":2013,"y":0.74},{"m":"M8","x":2014,"y":0.72},{"m":"M8","x":2015,"y":0.78},{"m":"M8","x":2016,"y":0.82},{"m":"M8","x":2017,"y":0.80},{"m":"M8","x":2018,"y":0.86},{"m":"M8","x":2019,"y":0.84},
{"m":"M8","x":2020,"y":0.90},{"m":"M8","x":2021,"y":0.94},{"m":"M8","x":2022,"y":0.92},{"m":"M8","x":2023,"y":0.98},{"m":"M8","x":2024,"y":1.02},{"m":"M8","x":2025,"y":1.00},
{"m":"B7","x":1980,"y":0.00},{"m":"B7","x":1981,"y":0.10},{"m":"B7","x":1982,"y":-0.08},{"m":"B7","x":1983,"y":-0.30},{"m":"B7","x":1984,"y":-0.22},{"m":"B7","x":1985,"y":-0.28},{"m":"B7","x":1986,"y":-0.10},{"m":"B7","x":1987,"y":0.05},{"m":"B7","x":1988,"y":-0.05},{"m":"B7","x":1989,"y":0.25},
{"m":"B7","x":1990,"y":0.30},{"m":"B7","x":1991,"y":0.36},{"m":"B7","x":1992,"y":-0.05},{"m":"B7","x":1993,"y":-0.20},{"m":"B7","x":1994,"y":0.10},{"m":"B7","x":1995,"y":-0.05},{"m":"B7","x":1996,"y":0.15},{"m":"B7","x":1997,"y":0.05},{"m":"B7","x":1998,"y":0.10},{"m":"B7","x":1999,"y":0.00},
{"m":"B7","x":2000,"y":0.22},{"m":"B7","x":2001,"y":0.10},{"m":"B7","x":2002,"y":0.35},{"m":"B7","x":2003,"y":0.15},{"m":"B7","x":2004,"y":0.38},{"m":"B7","x":2005,"y":0.28},{"m":"B7","x":2006,"y":0.32},{"m":"B7","x":2007,"y":0.25},{"m":"B7","x":2008,"y":0.38},{"m":"B7","x":2009,"y":0.30},
{"m":"B7","x":2010,"y":0.38},{"m":"B7","x":2011,"y":0.22},{"m":"B7","x":2012,"y":0.35},{"m":"B7","x":2013,"y":0.42},{"m":"B7","x":2014,"y":0.25},{"m":"B7","x":2015,"y":0.45},{"m":"B7","x":2016,"y":0.50},{"m":"B7","x":2017,"y":0.42},{"m":"B7","x":2018,"y":0.30},{"m":"B7","x":2019,"y":0.45},
{"m":"B7","x":2020,"y":0.55},{"m":"B7","x":2021,"y":0.50},{"m":"B7","x":2022,"y":0.62},{"m":"B7","x":2023,"y":0.55},{"m":"B7","x":2024,"y":0.48},{"m":"B7","x":2025,"y":0.45},
{"m":"B8","x":1980,"y":0.08},{"m":"B8","x":1981,"y":-0.02},{"m":"B8","x":1982,"y":0.05},{"m":"B8","x":1983,"y":-0.10},{"m":"B8","x":1984,"y":-0.05},{"m":"B8","x":1985,"y":-0.12},{"m":"B8","x":1986,"y":-0.08},{"m":"B8","x":1987,"y":0.02},{"m":"B8","x":1988,"y":0.06},{"m":"B8","x":1989,"y":0.02},
{"m":"B8","x":1990,"y":0.12},{"m":"B8","x":1991,"y":0.08},{"m":"B8","x":1992,"y":-0.10},{"m":"B8","x":1993,"y":-0.02},{"m":"B8","x":1994,"y":0.12},{"m":"B8","x":1995,"y":0.22},{"m":"B8","x":1996,"y":0.30},{"m":"B8","x":1997,"y":0.35},{"m":"B8","x":1998,"y":0.32},{"m":"B8","x":1999,"y":0.38},
{"m":"B8","x":2000,"y":0.46},{"m":"B8","x":2001,"y":0.52},{"m":"B8","x":2002,"y":0.48},{"m":"B8","x":2003,"y":0.55},{"m":"B8","x":2004,"y":0.60},{"m":"B8","x":2005,"y":0.52},{"m":"B8","x":2006,"y":0.58},{"m":"B8","x":2007,"y":0.65},{"m":"B8","x":2008,"y":0.62},{"m":"B8","x":2009,"y":0.58},
{"m":"B8","x":2010,"y":0.66},{"m":"B8","x":2011,"y":0.70},{"m":"B8","x":2012,"y":0.68},{"m":"B8","x":2013,"y":0.75},{"m":"B8","x":2014,"y":0.72},{"m":"B8","x":2015,"y":0.70},{"m":"B8","x":2016,"y":0.78},{"m":"B8","x":2017,"y":0.82},{"m":"B8","x":2018,"y":0.80},{"m":"B8","x":2019,"y":0.85},
{"m":"B8","x":2020,"y":0.90},{"m":"B8","x":2021,"y":0.86},{"m":"B8","x":2022,"y":0.92},{"m":"B8","x":2023,"y":1.21},{"m":"B8","x":2024,"y":0.95},{"m":"B8","x":2025,"y":1.12},
{"m":"B11","x":1980,"y":0.04},{"m":"B11","x":1981,"y":-0.06},{"m":"B11","x":1982,"y":0.08},{"m":"B11","x":1983,"y":-0.20},{"m":"B11","x":1984,"y":-0.16},{"m":"B11","x":1985,"y":-0.04},{"m":"B11","x":1986,"y":0.06},{"m":"B11","x":1987,"y":-0.04},{"m":"B11","x":1988,"y":0.14},{"m":"B11","x":1989,"y":0.06},
{"m":"B11","x":1990,"y":0.16},{"m":"B11","x":1991,"y":0.26},{"m":"B11","x":1992,"y":-0.12},{"m":"B11","x":1993,"y":-0.18},{"m":"B11","x":1994,"y":-0.04},{"m":"B11","x":1995,"y":0.12},{"m":"B11","x":1996,"y":0.24},{"m":"B11","x":1997,"y":0.16},{"m":"B11","x":1998,"y":0.22},{"m":"B11","x":1999,"y":0.36},
{"m":"B11","x":2000,"y":0.28},{"m":"B11","x":2001,"y":0.42},{"m":"B11","x":2002,"y":0.34},{"m":"B11","x":2003,"y":0.48},{"m":"B11","x":2004,"y":0.38},{"m":"B11","x":2005,"y":0.54},{"m":"B11","x":2006,"y":0.44},{"m":"B11","x":2007,"y":0.40},{"m":"B11","x":2008,"y":0.56},{"m":"B11","x":2009,"y":0.50},
{"m":"B11","x":2010,"y":0.46},{"m":"B11","x":2011,"y":0.58},{"m":"B11","x":2012,"y":0.52},{"m":"B11","x":2013,"y":0.64},{"m":"B11","x":2014,"y":0.56},{"m":"B11","x":2015,"y":0.52},{"m":"B11","x":2016,"y":0.72},{"m":"B11","x":2017,"y":0.66},{"m":"B11","x":2018,"y":0.60},{"m":"B11","x":2019,"y":0.70},
{"m":"B11","x":2020,"y":0.68},{"m":"B11","x":2021,"y":0.62},{"m":"B11","x":2022,"y":0.74},{"m":"B11","x":2023,"y":0.70},{"m":"B11","x":2024,"y":0.80},{"m":"B11","x":2025,"y":0.72},
{"m":"B9","x":1980,"y":-0.15},{"m":"B9","x":1981,"y":-0.10},{"m":"B9","x":1982,"y":0.02},{"m":"B9","x":1983,"y":-0.05},{"m":"B9","x":1984,"y":-0.18},{"m":"B9","x":1985,"y":-0.02},{"m":"B9","x":1986,"y":-0.15},{"m":"B9","x":1987,"y":-0.20},{"m":"B9","x":1988,"y":0.10},{"m":"B9","x":1989,"y":0.25},
{"m":"B9","x":1990,"y":0.08},{"m":"B9","x":1991,"y":0.20},{"m":"B9","x":1992,"y":-0.25},{"m":"B9","x":1993,"y":-0.28},{"m":"B9","x":1994,"y":0.05},{"m":"B9","x":1995,"y":0.02},{"m":"B9","x":1996,"y":0.08},{"m":"B9","x":1997,"y":0.28},{"m":"B9","x":1998,"y":0.20},{"m":"B9","x":1999,"y":0.05},
{"m":"B9","x":2000,"y":0.18},{"m":"B9","x":2001,"y":0.25},{"m":"B9","x":2002,"y":0.28},{"m":"B9","x":2003,"y":0.35},{"m":"B9","x":2004,"y":0.30},{"m":"B9","x":2005,"y":0.40},{"m":"B9","x":2006,"y":0.36},{"m":"B9","x":2007,"y":0.42},{"m":"B9","x":2008,"y":0.30},{"m":"B9","x":2009,"y":0.38},
{"m":"B9","x":2010,"y":0.45},{"m":"B9","x":2011,"y":0.32},{"m":"B9","x":2012,"y":0.40},{"m":"B9","x":2013,"y":0.50},{"m":"B9","x":2014,"y":0.38},{"m":"B9","x":2015,"y":0.48},{"m":"B9","x":2016,"y":0.60},{"m":"B9","x":2017,"y":0.55},{"m":"B9","x":2018,"y":0.40},{"m":"B9","x":2019,"y":0.48},
{"m":"B9","x":2020,"y":0.58},{"m":"B9","x":2021,"y":0.65},{"m":"B9","x":2022,"y":0.55},{"m":"B9","x":2023,"y":0.68},{"m":"B9","x":2024,"y":0.72},{"m":"B9","x":2025,"y":0.75}
]},
"layer":[
{"data":{"name":"d"},
 "mark":{"type":"line","strokeWidth":1.8},
 "encoding":{
  "x":{"field":"x","type":"quantitative","scale":{"domain":[1980,2025],"nice":false,"zero":false},
   "axis":{"values":[1980,1985,1990,1995,2000,2005,2010,2015,2020,2025],"format":"d","labelFlush":false,"title":"year","titlePadding":6,"tickSize":-8,"labelPadding":16,"domain":false,"grid":true,"gridDash":[1,3],"gridColor":"#888888","gridWidth":1}},
  "y":{"field":"y","type":"quantitative","scale":{"domain":[-0.5,1.8],"nice":false,"zero":false},
   "axis":{"values":[-0.5,0,0.5,1,1.5],"format":".1~f","labelExpr":"replace(datum.label, '\u2212', '-')","title":"Temp. Anom. 1980 - 1990 (°C)","titlePadding":12,"tickSize":-8,"labelPadding":16,"domain":false,"grid":true,"gridDash":[1,3],"gridColor":"#888888","gridWidth":1}},
  "stroke":{"field":"m","type":"nominal","legend":null,
   "scale":{"domain":["H1","H2","H3","H4","H5","M1","B1","M2","B2","M3","B3","M4","B4","M5","B5","M6","B6","M7","B10","M8","B7","B8","B11","B9"],
    "range":["#a00000","#cc0000","#b51515","#8b0000","#c01818","#ff0000","#000080","#e60000","#00008b","#c80000","#1a1a9a","#9a1010","#0000cc","#b00000","#0000ff","#801010","#2020d8","#ee1111","#1010e0","#d01a1a","#00006a","#6a1fa0","#202098","#0a0a80"]}}
 }},
{"data":{"name":"u"},
 "mark":{"type":"line","color":"#2ee02e","strokeWidth":9},
 "encoding":{
  "x":{"field":"x","type":"quantitative","axis":{"orient":"top","values":[1985,1990,1995,2000,2005,2010,2015,2020],"labels":false,"title":null,"grid":false,"domain":false,"tickSize":-8}},
  "y":{"field":"y","type":"quantitative","axis":{"orient":"right","values":[0,0.5,1,1.5],"labels":false,"title":null,"grid":false,"domain":false,"tickSize":-8}}
 }},
{"data":{"name":"lg"},
 "mark":{"type":"point","opacity":0},
 "encoding":{
  "color":{"field":"g","type":"nominal",
   "scale":{"domain":["CMIP6 GCMs with 3.0 < ECS ≤ 6.0","CMIP6 GCMs with 1.8 < ECS ≤ 3.0","UAH MSU v6.0 Tlt"],"range":["#8b1a1a","#000010","#2ee02e"]},
   "legend":{"orient":"none","legendX":31.5,"legendY":1.5,"direction":"vertical","title":null,"symbolSize":16,"symbolOpacity":1,"symbolStrokeWidth":2,"labelAlign":"right","labelOffset":-57,"symbolOffset":290,"labelFontSize":16,"labelColor":"black","labelLimit":400,"rowPadding":-12,"padding":8,"fillColor":"white"}},
  "shape":{"field":"g","type":"nominal",
   "scale":{"domain":["CMIP6 GCMs with 3.0 < ECS ≤ 6.0","CMIP6 GCMs with 1.8 < ECS ≤ 3.0","UAH MSU v6.0 Tlt"],"range":["M-12,0H12M0,-1h0M0,1h0","M-12,0H12M0,-1h0M0,1h0","M-12,-1H12M-12,-0.5H12M-12,0H12M-12,0.5H12M-12,1H12"]}}
 }}
],
"resolve":{"axis":{"x":"independent","y":"independent"}}
}
